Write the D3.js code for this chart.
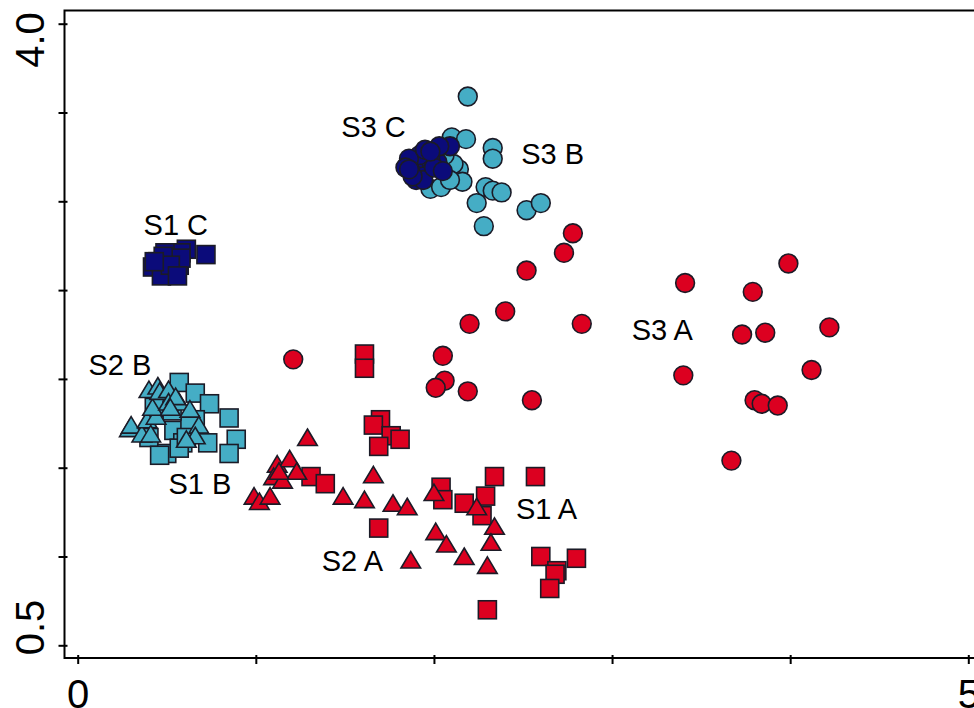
<!DOCTYPE html>
<html>
<head>
<meta charset="utf-8">
<script src="https://cdnjs.cloudflare.com/ajax/libs/d3/7.8.5/d3.min.js"></script>
<style>
    body { margin: 0; background: #fff; }
    svg { display: block; font-family: "Liberation Sans", Arial, sans-serif; }
</style>
</head>
<body>
<svg id="chart" width="974" height="708"></svg>
<script>
// ---- data ----
// S1 = squares, S2 = triangles, S3 = circles ; A red, B cyan, C navy
var s1A = [[1.61,2.14],[1.61,2.06],[1.70,1.77],[1.66,1.74],[1.76,1.68],[1.81,1.66],[1.69,1.62],
    [1.31,1.45],[1.39,1.41],[1.69,1.16],[2.04,1.39],[2.05,1.32],[2.34,1.45],[2.57,1.45],
    [2.17,1.30],[2.29,1.34],[2.27,1.23],[2.60,1.00],[2.80,0.99],[2.69,0.92],[2.68,0.90],
    [2.65,0.82],[2.30,0.70]];
var s1B = [[0.57,1.98],[0.66,1.92],[0.74,1.86],[0.85,1.78],[0.89,1.66],[0.85,1.58],[0.73,1.64],
    [0.66,1.77],[0.54,1.71],[0.40,1.67],[0.50,1.58],[0.46,1.57],[0.59,1.64],[0.57,1.61],
    [0.63,1.74],[0.43,1.84],[0.53,1.82],[0.61,1.67]];
var s1C = [[0.72,2.70],[0.61,2.73],[0.58,2.71],[0.49,2.71],[0.45,2.66],[0.42,2.63],[0.47,2.58],
    [0.57,2.64],[0.58,2.68],[0.48,2.69],[0.52,2.64],[0.43,2.66],[0.56,2.58]];
var s2A = [[1.29,1.67],[1.12,1.52],[1.19,1.55],[1.23,1.48],[1.10,1.45],[1.15,1.43],[1.13,1.48],
    [0.99,1.34],[1.02,1.31],[1.08,1.34],[1.49,1.34],[1.61,1.32],[1.66,1.46],[1.77,1.30],
    [1.85,1.28],[1.87,0.98],[2.00,1.36],[2.01,1.14],[2.24,1.28],[2.34,1.17],[2.07,1.07],
    [2.32,1.08],[2.17,1.00],[2.30,0.95]];
var s2B = [[0.29,1.72],[0.30,1.74],[0.36,1.69],[0.39,1.77],[0.44,1.79],[0.42,1.84],[0.40,1.94],
    [0.45,1.96],[0.46,1.93],[0.51,1.94],[0.51,1.87],[0.56,1.88],[0.57,1.87],[0.63,1.83],
    [0.68,1.74],[0.66,1.68],[0.61,1.66],[0.41,1.69],[0.55,1.90],[0.52,1.84]];
var s3A = [[1.21,2.11],[2.05,2.13],[2.06,1.99],[2.01,1.95],[2.19,1.93],[2.20,2.31],[2.40,2.38],
    [2.52,2.61],[2.73,2.71],[2.78,2.82],[2.83,2.31],[2.55,1.88],[3.41,2.54],[3.40,2.02],
    [3.79,2.49],[3.99,2.65],[3.73,2.25],[3.86,2.26],[4.22,2.29],[4.12,2.05],[3.80,1.88],
    [3.84,1.86],[3.93,1.85],[3.67,1.54]];
var s3B = [[2.19,3.59],[2.10,3.36],[2.18,3.35],[2.33,3.30],[2.33,3.24],[2.14,3.18],[2.16,3.11],
    [1.98,3.07],[2.04,3.08],[2.29,3.08],[2.33,3.06],[2.38,3.05],[2.24,2.99],[2.28,2.86],
    [2.52,2.95],[2.60,2.99],[2.11,3.21],[2.06,3.26],[2.09,3.12]];
var s3C = [[2.09,3.31],[2.02,3.22],[1.89,3.21],[1.87,3.17],[1.94,3.14],[1.98,3.23],[1.92,3.26],
    [1.86,3.24],[2.03,3.31],[1.90,3.12],[1.95,3.29],[1.84,3.19],[1.94,3.12],[2.00,3.19],
    [2.05,3.17],[1.88,3.14],[1.98,3.28],[1.86,3.18]];

var groupNames = ["S1 A", "S1 B", "S1 C", "S2 A", "S2 B", "S3 A", "S3 B", "S3 C"];
var groupPoints = [s1A, s1B, s1C, s2A, s2B, s3A, s3B, s3C];
// where each group name is written (left end, baseline), in data units
var labelX = [2.46, 0.51, 0.37, 1.37, 0.06, 3.11, 2.49, 1.48];
var labelY = [1.21, 1.35, 2.81, 0.92, 2.02, 2.22, 3.21, 3.36];

var xTicks = [0, 1, 2, 3, 4, 5];
var yTicks = [0.5, 1.0, 1.5, 2.0, 2.5, 3.0, 3.5, 4.0];
var xTickLabels = ["0", "", "", "", "", "5"];
var yTickLabels = ["0.5", "", "", "", "", "", "", "4.0"];

// ---- layout ----
var svg = d3.select("#chart");
var frame = { left: 64.5, top: 10.5, bottom: 658 };

var x = d3.scaleLinear().domain([0, 5]).range([77.7, 968.3]);
var y = d3.scaleLinear().domain([0.5, 4.0]).range([645.3, 23.7]);

var colors = { "A": "#dc0020", "B": "#45adc5", "C": "#0b0b7a" };
var edge = "#1b1b27";

// frame: top, left and bottom lines (right side runs off the page)
svg.append("path")
    .attr("d", "M990," + frame.top + "H" + frame.left + "V" + frame.bottom + "H990")
    .attr("fill", "none")
    .attr("stroke", "#000")
    .attr("stroke-width", 2);

// x axis
var gx = svg.append("g")
    .attr("transform", "translate(0," + frame.bottom + ")")
    .call(d3.axisBottom(x).tickValues(xTicks).tickSizeOuter(0)
        .tickFormat((d, i) => xTickLabels[i]));
gx.select(".domain").remove();
gx.selectAll(".tick line").attr("y1", -3).attr("y2", 6).attr("stroke-width", 2);
gx.selectAll(".tick text")
    .attr("y", 22)
    .attr("font-size", 40)
    .attr("font-family", "Liberation Sans, Arial, sans-serif")
    .attr("fill", "#000");

// y axis
var gy = svg.append("g")
    .attr("transform", "translate(" + frame.left + ",0)")
    .call(d3.axisLeft(y).tickValues(yTicks).tickSizeOuter(0).tickFormat(""));
gy.select(".domain").remove();
gy.selectAll(".tick line").attr("x1", 3).attr("x2", -6).attr("stroke-width", 2);

// end labels of y axis sit inside the range, rotated
svg.selectAll(".ylab")
    .data(yTicks.filter((d, i) => yTickLabels[i] != ""))
    .enter().append("text")
    .attr("class", "ylab")
    .attr("transform", d => "translate(43.5," + (y(d) + (d > 2 ? 16.3 : -17.8)) + ") rotate(-90)")
    .attr("text-anchor", "middle")
    .attr("font-size", 40)
    .attr("fill", "#000")
    .text(d => yTickLabels[yTicks.indexOf(d)]);

// marker shapes
var triangle = "M0,-8.5L9.8,8L-9.8,8Z";

groupPoints.forEach((pts, i) => {
    var name = groupNames[i];
    var shape = name.substr(0, 2);
    var fill = colors[name.slice(-1)];
    var g = svg.append("g").attr("class", "grp-" + i);

    if (shape == "S1") {
        g.selectAll("rect").data(pts).enter().append("rect")
            .attr("x", d => x(d[0]) - 9)
            .attr("y", d => y(d[1]) - 9)
            .attr("width", 18)
            .attr("height", 18)
            .attr("fill", fill)
            .attr("stroke", edge)
            .attr("stroke-width", 1.6);
    } else if (shape == "S2") {
        g.selectAll("path").data(pts).enter().append("path")
            .attr("d", triangle)
            .attr("transform", d => "translate(" + x(d[0]) + "," + y(d[1]) + ")")
            .attr("fill", fill)
            .attr("stroke", edge)
            .attr("stroke-width", 1.6)
            .attr("stroke-linejoin", "miter");
    } else {
        g.selectAll("circle").data(pts).enter().append("circle")
            .attr("cx", d => x(d[0]))
            .attr("cy", d => y(d[1]))
            .attr("r", 9.4)
            .attr("fill", fill)
            .attr("stroke", edge)
            .attr("stroke-width", 1.6);
    }
});

// group names
svg.selectAll(".grp-label")
    .data(groupNames)
    .enter().append("text")
    .attr("class", "grp-label")
    .attr("x", (d, i) => x(labelX[i]))
    .attr("y", (d, i) => y(labelY[i]))
    .attr("font-size", 29)
    .attr("fill", "#000")
    .text(d => d);
</script>
</body>
</html>
